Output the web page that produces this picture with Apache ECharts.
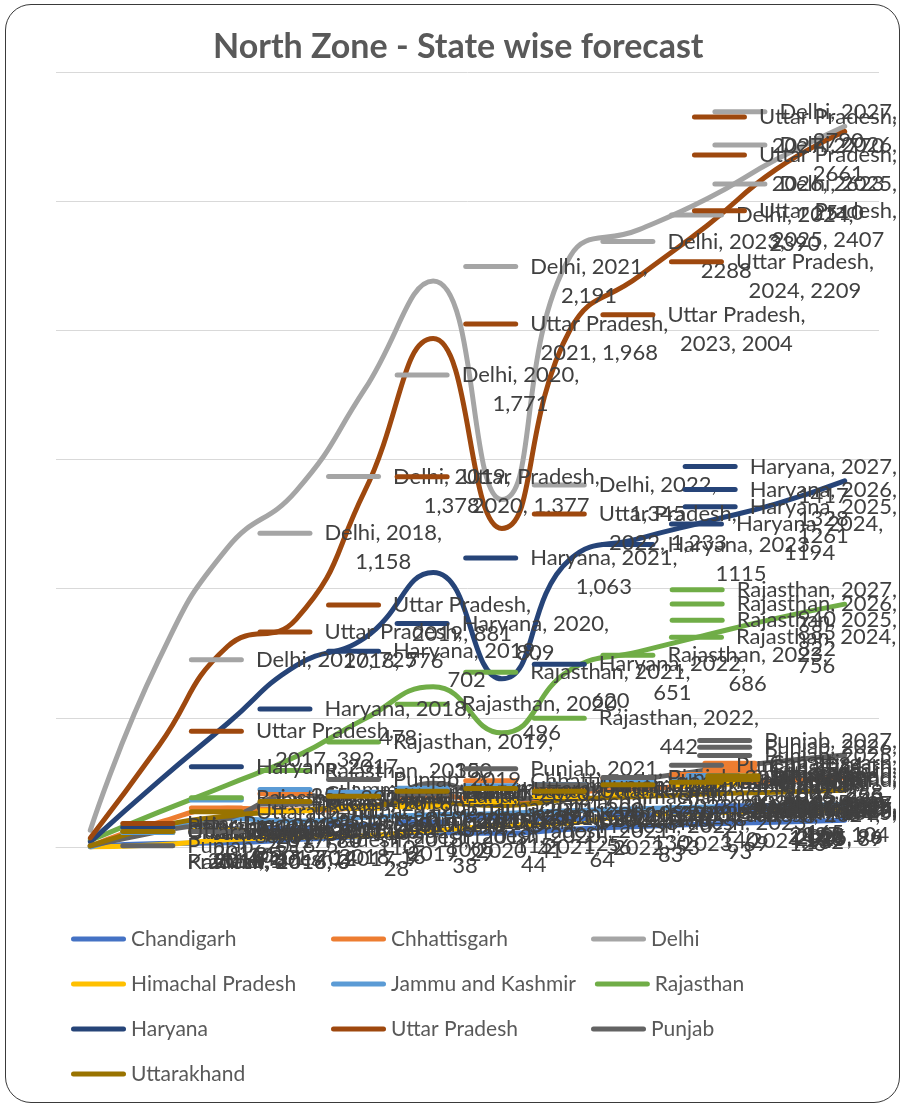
<!DOCTYPE html>
<html>
<head>
<meta charset="utf-8">
<script src="https://cdn.jsdelivr.net/npm/echarts@6/dist/echarts.min.js"></script>
<style>
  html, body { margin: 0; padding: 0; background: #fff; }
  #chart { position: absolute; left: 0; top: 0; width: 903px; height: 1106px; }
  #frame { position: absolute; left: 5px; top: 4px; width: 895px; height: 1099px; box-sizing: border-box;
           border: 1.5px solid #3a3a3a; border-radius: 26px; pointer-events: none; }
</style>
</head>
<body>
<div id="chart"></div>
<div id="frame"></div>
<script>
// Years on the category axis (actuals up to 2022, forecast afterwards)
const years = ['2016', '2017', '2018', '2019', '2020', '2021', '2022', '2023', '2024', '2025', '2026', '2027'];

// Yearly figures per state
const chandigarh      = [1, 14, 16, 29, 41, 56, 53, 69, 79, 89, 96, 104];
const chhattisgarh    = [3, 95, 150, 143, 155, 200, 170, 210, 225, 240, 255, 268];
const delhi           = [65, 725, 1158, 1378, 1771, 2191, 1345, 2288, 2390, 2510, 2661, 2790];
const himachalPradesh = [0, 9, 28, 38, 44, 64, 83, 93, 125, 132, 139, 143];
const jammuKashmir    = [0, 70, 110, 100, 115, 125, 130, 140, 148, 155, 160, 165];
const rajasthan       = [25, 135, 240, 350, 496, 620, 442, 686, 756, 822, 885, 940];
const haryana         = [20, 255, 478, 702, 809, 1063, 651, 1115, 1194, 1261, 1328, 1417];
const uttarPradesh    = [35, 392, 776, 881, 1377, 1968, 1233, 2004, 2209, 2407, 2623, 2770];
const punjab          = [5, 60, 110, 205, 150, 247, 185, 213, 260, 298, 330, 356];
const uttarakhand     = [4, 80, 120, 140, 160, 170, 160, 185, 195, 205, 212, 220];

const seriesList = [
  { name: 'Chandigarh',        data: chandigarh,      color: '#4472C4' },
  { name: 'Chhattisgarh',      data: chhattisgarh,    color: '#ED7D31' },
  { name: 'Delhi',             data: delhi,           color: '#A5A5A5' },
  { name: 'Himachal Pradesh',  data: himachalPradesh, color: '#FFC000' },
  { name: 'Jammu and Kashmir', data: jammuKashmir,    color: '#5B9BD5' },
  { name: 'Rajasthan',         data: rajasthan,       color: '#70AD47' },
  { name: 'Haryana',           data: haryana,         color: '#264478' },
  { name: 'Uttar Pradesh',     data: uttarPradesh,    color: '#9E480E' },
  { name: 'Punjab',            data: punjab,          color: '#636363' },
  { name: 'Uttarakhand',       data: uttarakhand,     color: '#997300' }
];

const FONT = 'Lato, "Open Sans", sans-serif';
const LABEL_SIZE = 22;
const LABEL_WRAP = 165;      // max text width of a data label line
const KEY_W = 55, KEY_GAP = 12;
const RIGHT_LIMIT = 897;     // labels are kept inside the chart frame

const ctx = document.createElement('canvas').getContext('2d');
ctx.font = LABEL_SIZE + 'px ' + FONT;

function wrapWords(words) {
  const lines = [];
  let cur = '';
  words.forEach(w => {
    const trial = cur ? cur + ' ' + w : w;
    if (cur && ctx.measureText(trial).width > LABEL_WRAP) { lines.push(cur); cur = w; }
    else { cur = trial; }
  });
  lines.push(cur);
  return lines;
}

function formatValue(year, v) {
  return Number(year) <= 2022 ? v.toLocaleString('en-US') : String(v);
}

function labelText(p) {
  const nameWords = p.seriesName.split(' ');
  nameWords[nameWords.length - 1] += ',';
  const words = nameWords.concat([p.name + ',', formatValue(p.name, p.value)]);
  const lines = wrapWords(words);
  return lines.map((l, i) => (i === 0 ? '{k|}{g|}' : '{s|}') + '{t|' + l + '}').join('\n');
}

const chart = echarts.init(document.getElementById('chart'), null, { renderer: 'canvas' });

chart.setOption({
  animation: false,
  backgroundColor: '#fff',
  title: {
    text: 'North Zone - State wise forecast',
    left: 208,
    top: 25,
    textStyle: { fontFamily: FONT, fontSize: 34, fontWeight: 'bold', color: '#595959' }
  },
  grid: { left: 56, right: 24, top: 72, bottom: 259 },
  xAxis: {
    type: 'category',
    data: years,
    boundaryGap: true,
    axisLine: { lineStyle: { color: '#D9D9D9', width: 1 } },
    axisTick: { show: false },
    axisLabel: { show: false }
  },
  yAxis: {
    type: 'value',
    min: 0, max: 3000, interval: 500,
    axisLine: { show: false },
    axisTick: { show: false },
    axisLabel: { show: false },
    splitLine: { lineStyle: { color: '#D9D9D9', width: 1 } }
  },
  legend: {
    left: 66, top: 921,
    width: 800,
    orient: 'horizontal',
    itemWidth: 55, itemHeight: 5,
    itemGap: 19,
    icon: 'path://M2.5,0 L52.5,0 A2.5,2.5 0 0 1 52.5,5 L2.5,5 A2.5,2.5 0 0 1 2.5,0 Z',
    textStyle: { fontFamily: FONT, fontSize: 21, color: '#595959', width: 181, lineHeight: 26 },
    data: seriesList.map(s => s.name)
  },
  series: seriesList.map(s => ({
    name: s.name,
    type: 'line',
    data: s.data,
    smooth: 0.5,
    symbol: 'circle',
    symbolSize: 0,
    showSymbol: true,
    showAllSymbol: true,
    color: s.color,
    itemStyle: { color: s.color },
    lineStyle: { color: s.color, width: 5, cap: 'round', join: 'round' },
    label: {
      show: true,
      position: 'right',
      distance: 30,
      formatter: labelText,
      rich: {
        k: { width: KEY_W, height: 5, backgroundColor: s.color, borderRadius: 2.5 },
        g: { width: KEY_GAP },
        s: { width: KEY_W + KEY_GAP },
        t: { fontFamily: FONT, fontSize: LABEL_SIZE, color: '#404040', lineHeight: 29, align: 'center' }
      }
    },
    labelLayout: function (p) {
      const over = p.labelRect.x + p.labelRect.width - RIGHT_LIMIT;
      return over > 0 ? { dx: -over } : {};
    },
    emphasis: { disabled: true }
  }))
});
</script>
</body>
</html>
